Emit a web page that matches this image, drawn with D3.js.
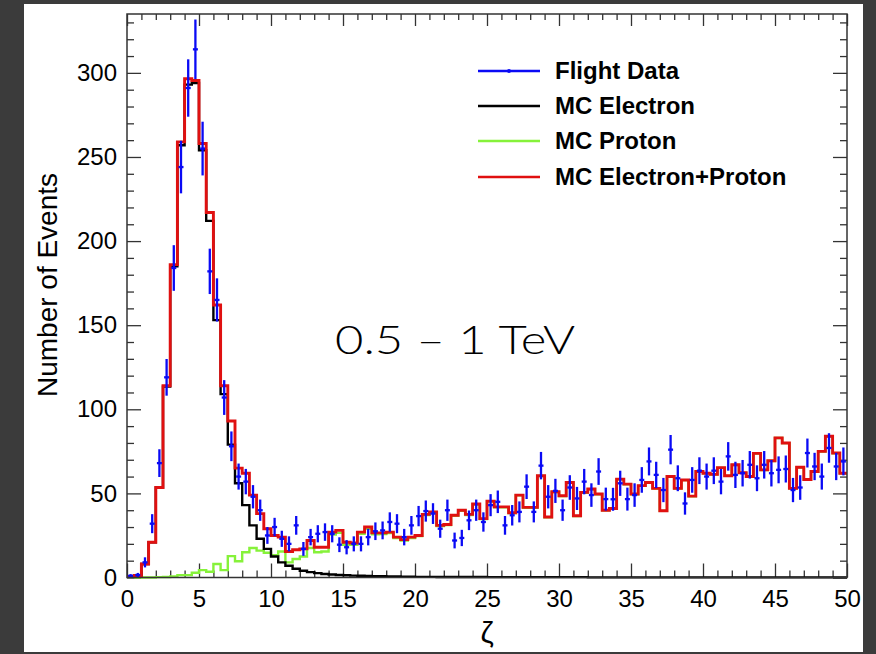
<!DOCTYPE html>
<html><head><meta charset="utf-8">
<script src="https://cdn.jsdelivr.net/npm/d3@7"></script>
<style>
html,body{margin:0;padding:0;background:#3b3b3b;}
svg{display:block;}
</style></head><body>
<svg id="chart" width="876" height="654"></svg>
<script>
// ---- data (bins of 0.5 in zeta, 0..50) ----
const binWidth = 0.5;
const flightData = [
 1, 1.5, 9, 32, 68, 119, 184, 244, 291, 314,
 255, 182, 165, 107, 78, 60, 57, 48, 40, 25,
 30, 23, 20, 31, 17, 24, 26, 27, 26, 19.5,
 18, 20, 20, 24, 27.5, 28, 33, 32, 24, 31,
 36.5, 39.5, 38, 29, 40, 22, 23.5, 34, 40, 33,
 43, 45, 31, 37, 39, 54, 39, 66.5, 48, 51.5,
 40, 53.5, 47, 57, 49, 63, 46.6, 46.5, 56, 46.6,
 49, 58, 69, 61, 52, 76, 59, 44, 58, 63.5,
 60, 63.5, 57, 72, 61, 62, 67, 59, 67, 62,
 64, 64.5, 52, 53.5, 74, 66, 60, 77, 66, 69
];
const mcElectron = [
 0.5, 1.2, 8, 21, 53.5, 113.5, 185, 257, 293, 294,
 254, 212, 153, 109, 79, 56, 43, 31, 23, 17,
 12.5, 9, 7, 5.2, 4, 3.2, 2.6, 2.1, 1.8, 1.5,
 1.3, 1.1, 1, 0.9, 0.8, 0.7, 0.6, 0.6, 0.5, 0.5,
 0.4, 0.4, 0.4, 0.3, 0.3, 0.3, 0.3, 0.3, 0.3, 0.3,
 0.2, 0.2, 0.2, 0.2, 0.2, 0.2, 0.2, 0.2, 0.2, 0.2,
 0.2, 0.2, 0.2, 0.2, 0.1, 0.1, 0.1, 0.1, 0.1, 0.1,
 0.1, 0.1, 0.1, 0.1, 0.1, 0.1, 0.1, 0.1, 0.1, 0.1,
 0.1, 0.1, 0.1, 0.1, 0.1, 0.1, 0.1, 0.1, 0.1, 0.1,
 0.1, 0.1, 0.1, 0.1, 0.1, 0.1, 0.1, 0.1, 0.1, 0.1
];
const mcProton = [
 0, 0, 0, 0, 0.2, 0.3, 0.6, 1.4, 1.4, 2.8,
 4.4, 3.4, 8, 4.4, 12.7, 9.7, 15, 17.5, 16, 14.7,
 13.3, 15.5, 9, 11, 12.5, 17.5, 15, 15.5, 25.5, 26.5,
 19.5, 19.5, 26, 29, 25.7, 25.8, 26.4, 23.5, 22, 23.5,
 24.6, 37.1, 38.6, 30.6, 31.2, 36.7, 39.7, 37.2, 43.4, 34.7,
 45.2, 41.8, 41.8, 38.3, 48.8, 41.5, 41.5, 60.3, 35.8, 50.8,
 48.4, 56.3, 36.5, 50.4, 52.5, 49.5, 39.9, 40.9, 58.4, 55.4,
 49.5, 54.5, 56.4, 52.9, 39.6, 59.9, 52.9, 57.9, 48.3, 62.9,
 61.9, 61.2, 65.2, 60.4, 66.9, 62.2, 59.9, 73.7, 63.9, 69.3,
 82.9, 79.9, 52.9, 65.4, 58.2, 62.9, 74.9, 83.9, 73.9, 61.9
];
const mcSum = [
 0.5, 1.2, 8, 21, 53.5, 114, 186, 259, 296.5, 295.5,
 258, 217, 162, 114, 93, 65, 62, 49, 38, 29,
 25, 24, 15.5, 16.5, 17, 22, 18, 18, 27, 28,
 21, 20.5, 27, 30, 26.5, 26.5, 27, 24, 22.5, 24,
 25, 37.5, 39, 31, 31.5, 37, 40, 37.5, 43.7, 35,
 45.4, 42, 42, 38.5, 49, 41.7, 41.7, 60.5, 36, 51,
 48.6, 56.5, 36.7, 50.6, 52.6, 49.6, 40, 41, 58.5, 55.5,
 49.6, 54.6, 56.5, 53, 39.7, 60, 53, 58, 48.4, 63,
 62, 61.3, 65.3, 60.5, 67, 62.3, 60, 73.8, 64, 69.4,
 83, 80, 53, 65.5, 58.3, 63, 75, 84, 74, 62
];
const xMajorTicks = [0, 5, 10, 15, 20, 25, 30, 35, 40, 45, 50];
const yMajorTicks = [0, 50, 100, 150, 200, 250, 300];
const legendLabels = ["Flight Data", "MC Electron", "MC Proton", "MC Electron+Proton"];
const xTitle = "ζ";
const yTitle = "Number of Events";
const annotation = "0.5 – 1 TeV";

// ---- layout ----
const svg = d3.select("#chart");
const L = 127, R = 847, T = 14, B = 577.5;
const x = d3.scaleLinear().domain([0, 50]).range([L, R]);
const y = d3.scaleLinear().domain([0, 335]).range([B, T]);
const font = "'Liberation Sans', Arial, Helvetica, sans-serif";
const colors = {data: "#0a0af5", ele: "#000000", pro: "#86f23a", sum: "#e01010"};

svg.append("rect").attr("x", 0).attr("y", 0).attr("width", 876).attr("height", 654).attr("fill", "#3b3b3b");
svg.append("rect").attr("x", 24).attr("y", 4).attr("width", 839).attr("height", 648).attr("fill", "#ffffff");

// ---- axes ----
const xMinor = d3.range(0, 51, 1).filter(v => v % 5 !== 0);
const yMinor = d3.range(0, 336, 10).filter(v => v % 50 !== 0);
const tickColor = "#333";
function styleAxis(g) {
  g.select(".domain").remove();
  g.selectAll("line").attr("stroke", tickColor).attr("stroke-width", 1.3);
  g.selectAll("text").attr("font-family", font).attr("font-size", 24).attr("fill", "#000");
}
// left
svg.append("g").attr("transform", `translate(${L},0)`)
  .call(d3.axisLeft(y).tickValues(yMinor).tickSize(-7).tickFormat("")).call(styleAxis);
svg.append("g").attr("transform", `translate(${L},0)`)
  .call(d3.axisLeft(y).tickValues(yMajorTicks).tickSize(-14).tickPadding(10).tickFormat(d3.format("d"))).call(styleAxis);
// right
svg.append("g").attr("transform", `translate(${R},0)`)
  .call(d3.axisRight(y).tickValues(yMinor).tickSize(-7).tickFormat("")).call(styleAxis);
svg.append("g").attr("transform", `translate(${R},0)`)
  .call(d3.axisRight(y).tickValues(yMajorTicks).tickSize(-14).tickFormat("")).call(styleAxis);
// bottom
svg.append("g").attr("transform", `translate(0,${B})`)
  .call(d3.axisBottom(x).tickValues(xMinor).tickSize(-7).tickFormat("")).call(styleAxis);
svg.append("g").attr("transform", `translate(0,${B})`)
  .call(d3.axisBottom(x).tickValues(xMajorTicks).tickSize(-14).tickPadding(12).tickFormat(d3.format("d"))).call(styleAxis);
// top
svg.append("g").attr("transform", `translate(0,${T})`)
  .call(d3.axisTop(x).tickValues(xMinor).tickSize(-6).tickFormat("")).call(styleAxis);
svg.append("g").attr("transform", `translate(0,${T})`)
  .call(d3.axisTop(x).tickValues(xMajorTicks).tickSize(-12).tickFormat("")).call(styleAxis);

// ---- histograms ----
function stepPath(vals, start) {
  const s = start || 0;
  let p = `M${x(s * binWidth)},${y(vals[s])}`;
  for (let i = s; i < vals.length; i++) {
    p += `H${x((i + 1) * binWidth)}`;
    if (i + 1 < vals.length) p += `V${y(vals[i + 1])}`;
  }
  return p;
}
const plot = svg.append("g");
plot.append("path").attr("d", stepPath(mcProton, 1)).attr("fill", "none")
  .attr("stroke", colors.pro).attr("stroke-width", 2.4);
plot.append("path").attr("d", stepPath(mcElectron)).attr("fill", "none")
  .attr("stroke", colors.ele).attr("stroke-width", 2.4);
plot.append("path").attr("d", stepPath(mcSum)).attr("fill", "none")
  .attr("stroke", colors.sum).attr("stroke-width", 2.9);

// ---- data points with Poisson error bars ----
const pts = plot.append("g").selectAll("g").data(flightData).join("g");
pts.append("line")
  .attr("x1", (d, i) => x((i + 0.5) * binWidth)).attr("x2", (d, i) => x((i + 0.5) * binWidth))
  .attr("y1", d => y(Math.max(0, d - Math.sqrt(d)))).attr("y2", d => y(d + Math.sqrt(d)))
  .attr("stroke", colors.data).attr("stroke-width", 2.3);
pts.append("line")
  .attr("x1", (d, i) => x((i + 0.5) * binWidth) - 2.5).attr("x2", (d, i) => x((i + 0.5) * binWidth) + 2.5)
  .attr("y1", d => y(d)).attr("y2", d => y(d))
  .attr("stroke", colors.data).attr("stroke-width", 2.3);

// frame
svg.append("rect").attr("x", L).attr("y", T).attr("width", R - L).attr("height", B - T)
  .attr("fill", "none").attr("stroke", tickColor).attr("stroke-width", 1.5);

// ---- titles ----
svg.append("text").attr("x", x(25)).attr("y", 643).attr("text-anchor", "middle")
  .attr("font-family", font).attr("font-size", 30).text(xTitle);
svg.append("text").attr("transform", "translate(57,285) rotate(-90)").attr("text-anchor", "middle")
  .attr("font-family", font).attr("font-size", 28).text(yTitle);
svg.append("text").attr("x", 335).attr("y", 354)
  .attr("font-family", "Lato, 'Open Sans', sans-serif").attr("font-weight", 300)
  .attr("font-size", 40).attr("textLength", 240).attr("lengthAdjust", "spacingAndGlyphs").text(annotation);

// ---- legend ----
const legColors = [colors.data, colors.ele, colors.pro, colors.sum];
const legY = [71, 106, 141, 177];
const leg = svg.append("g");
legendLabels.forEach((lab, i) => {
  leg.append("line").attr("x1", 478).attr("x2", 540).attr("y1", legY[i]).attr("y2", legY[i])
    .attr("stroke", legColors[i]).attr("stroke-width", 2.4);
  if (i === 0) leg.append("circle").attr("cx", 509).attr("cy", legY[i]).attr("r", 2).attr("fill", colors.data);
  leg.append("text").attr("x", 555).attr("y", legY[i] + 8).attr("font-family", font)
    .attr("font-weight", "bold").attr("font-size", 24).attr("fill", "#000").text(lab);
});
</script>
</body></html>
